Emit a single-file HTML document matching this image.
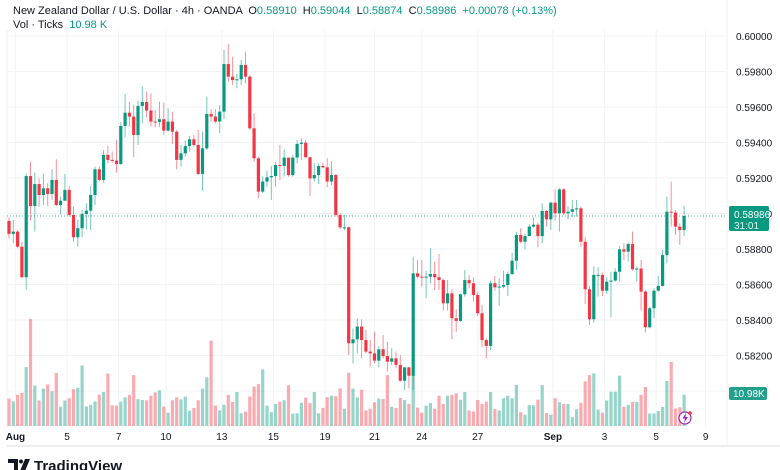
<!DOCTYPE html>
<html><head><meta charset="utf-8">
<style>
body{margin:0;width:780px;height:470px;overflow:hidden;background:#fff;font-family:"Liberation Sans",sans-serif;}
#wrap{position:relative;width:780px;height:470px;}
.hdr{position:absolute;left:13px;font-size:11px;color:#131722;white-space:nowrap;}
.g{color:#089981;}
svg{position:absolute;left:0;top:0;}
</style></head><body>
<div id="wrap">
<svg id="chart" width="780" height="470"></svg>
<div class="hdr" style="top:5px">New Zealand Dollar / U.S. Dollar · 4h · OANDA &nbsp;O<span class="g">0.58910</span> &nbsp;H<span class="g">0.59044</span> &nbsp;L<span class="g">0.58874</span> &nbsp;C<span class="g">0.58986</span> &nbsp;<span class="g">+0.00078 (+0.13%)</span></div>
<div class="hdr" style="top:19px">Vol · Ticks &nbsp;<span class="g">10.98 K</span></div>
</div>
<script>
const closes=[58885,58898,58813,58641,59211,59042,59166,59104,59142,59110,59189,59048,59072,59133,58992,58866,58917,58997,59016,59104,59249,59189,59330,59302,59298,59279,59493,59568,59546,59442,59606,59628,59580,59518,59516,59531,59467,59518,59461,59302,59339,59380,59418,59386,59223,59367,59561,59546,59518,59574,59842,59771,59752,59756,59837,59771,59480,59311,59123,59180,59204,59211,59273,59268,59315,59217,59315,59392,59399,59317,59198,59217,59268,59260,59180,59217,58992,58922,58922,58269,58291,58363,58287,58222,58212,58171,58235,58197,58165,58184,58147,58058,58133,58086,58663,58644,58641,58644,58659,58641,58625,58494,58550,58410,58395,58545,58625,58607,58541,58438,58287,58254,58607,58584,58588,58597,58659,58734,58879,58841,58873,58926,58937,58873,59014,58967,59061,59001,59136,59001,59010,59024,59029,58841,58573,58404,58654,58654,58565,58616,58622,58672,58798,58785,58828,58686,58690,58560,58359,58466,58565,58592,58766,59010,59005,58926,58907,58986];
const highs=[58979,58964,58907,58841,59226,59292,59230,59198,59226,59170,59249,59305,59095,59223,59155,59039,58964,59020,59057,59155,59264,59264,59358,59380,59349,59414,59512,59673,59630,59611,59636,59715,59687,59677,59583,59630,59625,59593,59574,59471,59386,59411,59437,59442,59471,59461,59658,59587,59587,59611,59921,59955,59884,59786,59865,59912,59780,59564,59320,59208,59241,59268,59292,59386,59362,59273,59330,59414,59424,59414,59320,59283,59283,59287,59311,59292,59223,59001,58992,58926,58353,58410,58404,58344,58287,58334,58254,58316,58278,58241,58222,58203,58137,58137,58757,58738,58738,58678,58804,58729,58772,58635,58625,58573,58460,58550,58682,58654,58641,58560,58485,58297,58622,58648,58635,58678,58672,58779,58898,58917,58885,58939,58979,58949,59057,59020,59067,59136,59142,59142,59042,59076,59076,59039,58866,58592,58704,58697,58667,58641,58672,58691,58817,58832,58836,58898,58701,58738,58569,58475,58579,58648,58795,59095,59180,59020,58945,59044];
const lows=[58860,58832,58804,58635,58569,58960,58898,59039,59048,59042,59076,59042,58992,59076,58982,58841,58813,58866,58911,58907,59048,59180,59174,59283,59287,59230,59273,59429,59489,59317,59386,59508,59542,59489,59486,59489,59442,59461,59392,59249,59264,59320,59349,59377,59217,59129,59358,59518,59508,59452,59531,59743,59724,59705,59724,59734,59471,59292,59086,59114,59151,59076,59151,59189,59208,59208,59208,59283,59302,59311,59099,59180,59166,59255,59148,59161,58982,58911,58907,58203,58156,58212,58184,58212,58137,58156,58133,58184,58109,58147,58128,58053,58006,58015,58006,58635,58588,58522,58607,58569,58569,58456,58453,58291,58334,58391,58532,58579,58503,58423,58250,58184,58231,58565,58479,58579,58535,58654,58682,58832,58798,58870,58922,58810,58832,58926,58907,58960,58898,58992,58967,58979,58982,58813,58490,58372,58385,58532,58535,58547,58415,58616,58616,58738,58729,58678,58616,58453,58329,58353,58410,58560,58588,58719,58926,58879,58823,58873];
const firstOpen=58958;
const volumes=[9.7,8.7,11.0,11.7,20.8,37.8,14.3,9.0,13.2,14.7,12.3,18.7,6.8,9.0,9.8,13.0,13.5,21.4,6.9,7.5,8.7,11.1,12.0,18.5,7.3,7.2,8.6,10.1,11.0,18.0,9.5,9.2,9.1,10.7,11.9,12.6,6.9,4.7,9.1,10.1,9.4,10.4,5.4,6.4,9.1,13.2,17.2,30.2,7.2,5.5,7.5,11.0,8.5,12.0,4.5,5.1,10.4,13.9,14.8,20.0,7.2,4.9,7.8,8.6,9.1,14.4,4.4,4.5,8.2,10.0,8.1,12.0,4.5,6.4,10.2,10.7,10.5,13.3,6.1,18.8,13.2,10.1,12.8,5.5,6.1,8.4,9.7,9.5,18.0,6.8,6.4,9.9,9.2,7.8,17.9,6.5,4.7,7.2,8.1,6.1,10.7,7.8,10.7,11.0,11.5,9.3,12.0,5.5,5.1,9.2,7.8,8.6,12.0,6.0,5.5,9.8,10.7,9.8,14.5,4.9,4.0,7.4,7.3,9.3,14.5,4.6,4.0,9.8,8.4,7.8,7.8,3.1,5.9,8.2,15.8,18.0,18.6,5.8,4.7,9.0,12.1,12.1,17.8,6.8,7.5,8.6,8.5,11.0,13.8,4.4,4.4,5.3,6.7,15.9,22.6,6.2,6.6,11.1];
const priceTicks=[0.600,0.598,0.596,0.594,0.592,0.590,0.588,0.586,0.584,0.582,0.580];
const dateLabels=["Aug","5","7","10","13","15","19","21","24","27","Sep","3","5","9"];
const dateIdx=[1.5,13.5,25.5,36.5,49.5,61.5,73.5,85,96,109,126.5,138.5,150.5,162];

const NS="http://www.w3.org/2000/svg";
const svg=document.getElementById('chart');
const X0=9,DX=4.3,PLOT_R=727;
const yP=p=>36+(0.6-p)*17750;
const xI=i=>X0+i*DX;
const VB=426,VK=2.83;
function mk(tag,attrs,parent){const e=document.createElementNS(NS,tag);for(const k in attrs)e.setAttribute(k,attrs[k]);(parent||svg).appendChild(e);return e;}

// grid
const grid=mk('g',{});


priceTicks.forEach(t=>{const l=mk('line',{x1:7,x2:PLOT_R,y1:yP(t),y2:yP(t),stroke:'#f2f3f5','stroke-width':1},grid);

});
dateIdx.forEach(d=>{const x=xI(d);const l=mk('line',{x1:x,x2:x,y1:30,y2:428,stroke:'#f2f3f5','stroke-width':1},grid);

});
mk('line',{x1:7,x2:7,y1:30,y2:428,stroke:'#f0f1f3'});
mk('line',{x1:PLOT_R,x2:PLOT_R,y1:0,y2:446,stroke:'#f0f1f3'});
mk('line',{x1:7,x2:780,y1:446,y2:446,stroke:'#eceef2','stroke-width':2});

// volumes
const vg=mk('g',{});


let prev=firstOpen;
const opens=closes.map((c,i)=>{const o=i===0?firstOpen:closes[i-1];return o;});
volumes.forEach((v,i)=>{const up=closes[i]>=opens[i];const h=v*VK;
const r=mk('rect',{x:xI(i)-1.6,y:VB-h,width:3.2,height:h,fill:up?'rgba(8,153,129,0.42)':'rgba(242,54,69,0.42)'},vg);

});

// current price line
const pl=mk('line',{x1:7,x2:PLOT_R,y1:yP(closes[closes.length-1]/1e5),y2:yP(closes[closes.length-1]/1e5),stroke:'#089981','stroke-width':1,'stroke-dasharray':'1,2',opacity:0.7});



// candles
const cg=mk('g',{});


closes.forEach((c,i)=>{const o=opens[i]/1e5,cl=c/1e5,h=highs[i]/1e5,l=lows[i]/1e5;const up=cl>=o;const col=up?'#089981':'#f23645';const x=xI(i);
const w=mk('line',{x1:x,x2:x,y1:yP(Math.max(h,o,cl)),y2:yP(Math.min(l,o,cl)),stroke:col,'stroke-width':1,opacity:0.55},cg);


const top=yP(Math.max(o,cl)),bh=Math.max(1,Math.abs(yP(o)-yP(cl)));
const b=mk('rect',{x:x-1.6,y:top,width:3.2,height:bh,fill:col},cg);

});

// price axis labels
priceTicks.forEach(t=>{if(t<0.581)return;const tx=mk('text',{x:736,y:yP(t)+4,'font-size':10,fill:'#131722','font-family':'Liberation Sans, sans-serif'});tx.textContent=t.toFixed(5);

});
// date labels
dateLabels.forEach((d,i)=>{const bold=(d==='Aug'||d==='Sep');const tx=mk('text',{x:xI(dateIdx[i]),y:440,'font-size':10,fill:'#131722','text-anchor':'middle','font-weight':bold?'bold':'normal','font-family':'Liberation Sans, sans-serif'});tx.textContent=d;

});

// last price badge
const bg=mk('g',{});


mk('rect',{x:729,y:206,width:40,height:25,rx:2,fill:'#089981'},bg);
let t1=mk('text',{x:734,y:218,'font-size':10,fill:'#fff'},bg);t1.textContent='0.58986';
let t2=mk('text',{x:734,y:229,'font-size':10,fill:'#e6f5f2'},bg);t2.textContent='31:01';
const vb=mk('g',{});


mk('rect',{x:729,y:387,width:38,height:13,rx:2,fill:'#22a08c'},vb);
let t3=mk('text',{x:733,y:397,'font-size':10,fill:'#fff'},vb);t3.textContent='10.98K';

// lightning icon
const li=mk('g',{});


mk('circle',{cx:685,cy:418,r:6,fill:'#fff',stroke:'#9c27b0','stroke-width':1.2},li);
mk('path',{d:'M686 413 L682.5 418.5 L685 418.5 L684 423 L688 417 L685.5 417 Z',fill:'#9c27b0'},li);
mk('circle',{cx:690,cy:413,r:1.8,fill:'#f23645'},li);

// logo
const lg=mk('g',{});


mk('path',{d:'M8 459 h10 v12 h-4 v-8 h-6 Z',fill:'#131722'},lg);
mk('circle',{cx:21,cy:461.5,r:2,fill:'#131722'},lg);
mk('path',{d:'M25 459 h5 l-5 12 h-5 Z',fill:'#131722'},lg);
let t4=mk('text',{x:34,y:471,'font-size':15,'font-weight':'bold',fill:'#131722'},lg);t4.textContent='TradingView';
</script>
</body></html>
